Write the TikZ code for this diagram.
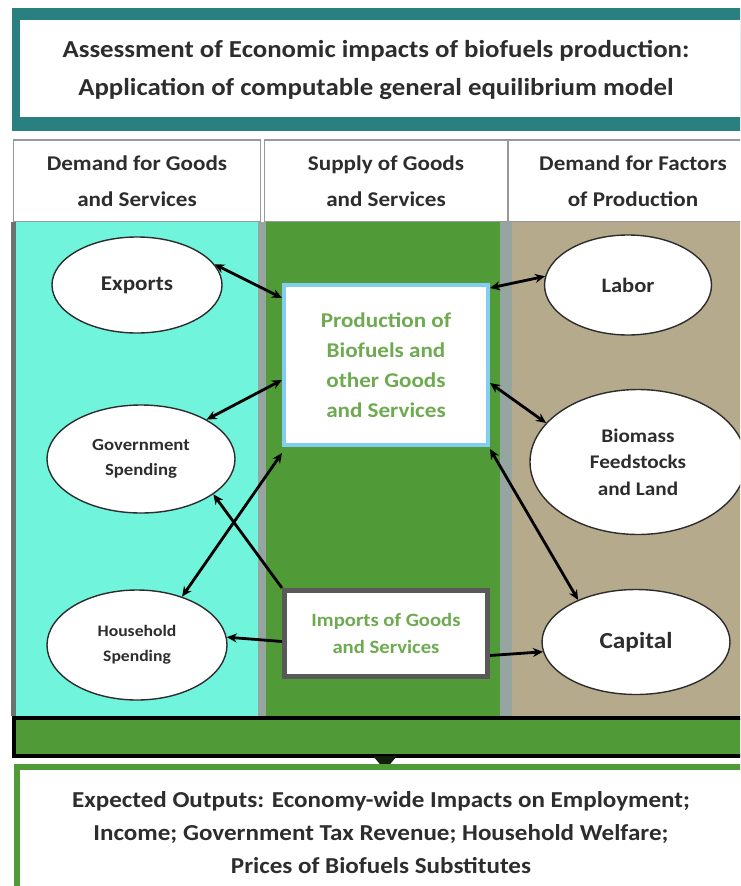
\documentclass[tikz,border=0pt]{standalone}
\usepackage{fontspec}
\setmainfont{Carlito}[FakeStretch=1.1]
\usetikzlibrary{arrows.meta,shapes.geometric}
\definecolor{teal}{RGB}{42,128,128}
\definecolor{aqua}{RGB}{112,244,220}
\definecolor{leaf}{RGB}{80,155,55}
\definecolor{khaki}{RGB}{182,170,140}
\definecolor{strip}{RGB}{150,165,160}
\definecolor{sky}{RGB}{130,205,240}
\definecolor{txtgreen}{RGB}{110,170,80}
\definecolor{ink}{RGB}{45,45,45}
\tikzset{
  oval/.style={ellipse,draw=ink,line width=1.4pt,fill=white,inner sep=0pt,
    align=center,text=ink},
  headcell/.style={rectangle,draw=gray!80,line width=1.2pt,fill=white,
    align=center,text=ink,font=\fontsize{21}{36}\selectfont\bfseries,inner sep=0pt},
  link/.style={line width=2.8pt,draw=black,{Stealth[length=10pt,width=9pt]}-{Stealth[length=10pt,width=9pt]}},
  onelink/.style={line width=2.8pt,draw=black,-{Stealth[length=10pt,width=9pt]}}
}
\begin{document}
\begin{tikzpicture}[x=1pt,y=-1pt]
\useasboundingbox (0,0) rectangle (740,886);
\clip (0,0) rectangle (740,886);
\fill[white] (0,0) rectangle (740,886);

% title frame
\fill[teal] (12,8) rectangle (760,131);
\fill[white] (20,20) rectangle (760,117);
\node[font=\fontsize{24.4}{38}\selectfont\bfseries,text=ink,align=center] (title) at (376,70)
  {Assessment of Economic impacts of biofuels production:\\Application of computable general equilibrium model};

% column headers
\node[headcell,minimum width=247pt,minimum height=82pt] (h1) at (137,181) {Demand for Goods\\and Services};
\node[headcell,minimum width=243pt,minimum height=82pt] (h2) at (386,181) {Supply of Goods\\and Services};
\node[headcell,minimum width=250pt,minimum height=82pt] (h3) at (633,181) {Demand for Factors\\of Production};

% column backgrounds
\fill[strip!70!black] (11,222) rectangle (16,716);
\fill[aqua] (16,222) rectangle (258,716);
\fill[strip] (258,222) rectangle (266,716);
\fill[leaf] (266,222) rectangle (500,716);
\fill[strip] (500,222) rectangle (512,716);
\fill[khaki] (512,222) rectangle (760,716);

% bottom band and output box
\draw[fill=leaf,line width=4pt] (14,718) rectangle (770,756);
\fill[black!80!leaf] (373,756) -- (397,756) -- (385,770) -- cycle;
\draw[leaf,fill=white,line width=6pt] (17,767) rectangle (770,890);
\node[font=\fontsize{22.8}{33}\selectfont\bfseries,text=ink,align=center] (out) at (381,833)
  {Expected Outputs: Economy-wide Impacts on Employment;\\Income; Government Tax Revenue; Household Welfare;\\Prices of Biofuels Substitutes};

% central boxes
\node[rectangle,draw=sky,line width=4pt,fill=white,minimum width=204pt,minimum height=160pt,
  align=center,text=txtgreen,font=\fontsize{21}{30}\selectfont\bfseries] (prod) at (386,365)
  {Production of\\Biofuels and\\other Goods\\and Services};
\node[rectangle,draw=gray!70!black,line width=5pt,fill=white,minimum width=203pt,minimum height=86pt,
  align=center,text=txtgreen,font=\fontsize{18.8}{27}\selectfont\bfseries] (imp) at (386,633.5)
  {Imports of Goods\\and Services};

% demand side
\node[oval,minimum width=170pt,minimum height=96pt,font=\fontsize{21}{24}\selectfont\bfseries] (exp) at (137,285) {Exports};
\node[oval,minimum width=188pt,minimum height=108pt,font=\fontsize{17}{25}\selectfont\bfseries] (gov) at (141,459) {Government\\Spending};
\node[oval,minimum width=180pt,minimum height=110pt,font=\fontsize{16}{25}\selectfont\bfseries] (hh) at (137,645) {Household\\Spending};

% factor side
\node[oval,minimum width=167pt,minimum height=100pt,font=\fontsize{20.5}{24}\selectfont\bfseries] (lab) at (628,285) {Labor};
\node[oval,minimum width=216pt,minimum height=145pt,font=\fontsize{19.3}{26.5}\selectfont\bfseries] (bio) at (638,462) {Biomass\\Feedstocks\\and Land};
\node[oval,minimum width=188pt,minimum height=105pt,font=\fontsize{23}{26}\selectfont\bfseries] (cap) at (636,642) {Capital};

% flows to and from production
\draw[link] (exp.15) -- ([yshift=-15pt]prod.north west);
\draw[link] (lab.174) -- ([yshift=-5pt]prod.north east);
\draw[link] (gov.31) -- ([yshift=-97pt]prod.north west);
\draw[link] (bio.157) -- ([yshift=-100pt]prod.north east);
\draw[link] (hh.47) -- ([yshift=-6pt]prod.south west);
\draw[link] (cap.144) -- ([yshift=-2pt]prod.south east);

% flows from imports
\draw[onelink] (imp.north west) -- (gov.-26);
\draw[onelink] ([yshift=-8pt]imp.west) -- (hh.5);
\draw[onelink] ([yshift=-22pt]imp.east) -- (cap.186);
\end{tikzpicture}
\end{document}
